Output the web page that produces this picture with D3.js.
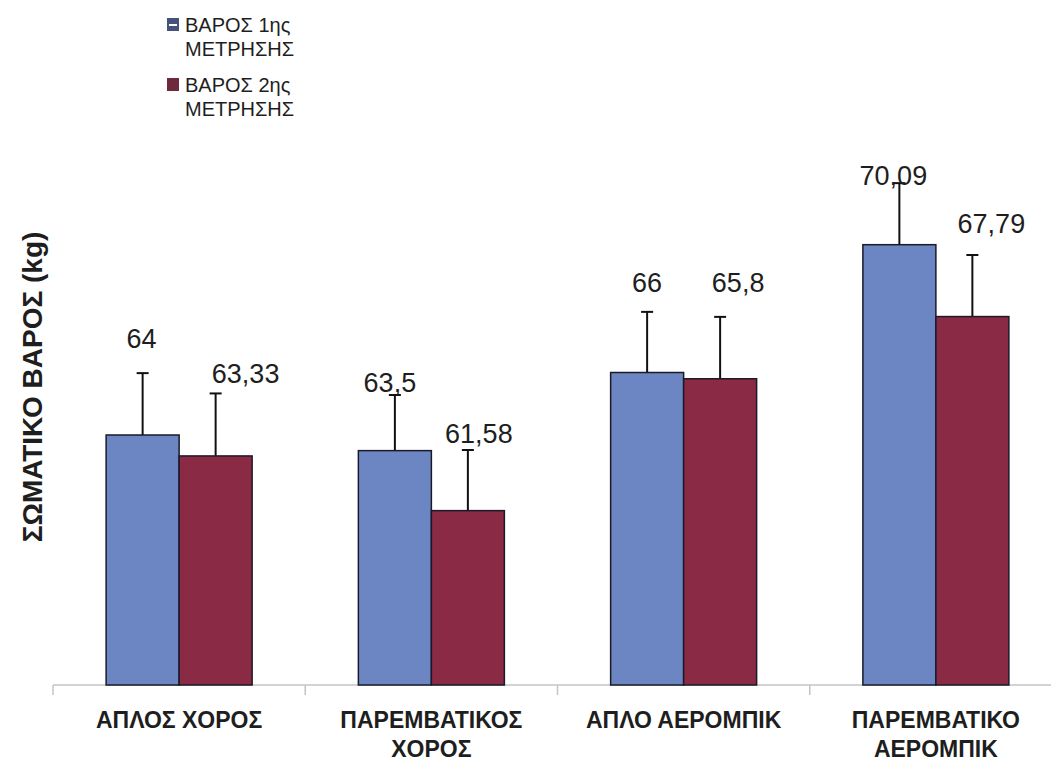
<!DOCTYPE html>
<html>
<head>
<meta charset="utf-8">
<script src="https://cdn.jsdelivr.net/npm/d3@7"></script>
<style>
    body { margin: 0; background: #fff; }
    text { font-family: Arial, "Liberation Sans", sans-serif; fill: #1e1e1e; }
</style>
</head>
<body>
<svg id="scene"></svg>
<script>
// data
let categories = [
    ["ΑΠΛΟΣ ΧΟΡΟΣ"],
    ["ΠΑΡΕΜΒΑΤΙΚΟΣ", "ΧΟΡΟΣ"],
    ["ΑΠΛΟ ΑΕΡΟΜΠΙΚ"],
    ["ΠΑΡΕΜΒΑΤΙΚΟ", "ΑΕΡΟΜΠΙΚ"]
]
let seriesNames = [["ΒΑΡΟΣ 1ης", "ΜΕΤΡΗΣΗΣ"], ["ΒΑΡΟΣ 2ης", "ΜΕΤΡΗΣΗΣ"]]
let weight1 = [64, 63.5, 66, 70.09]
let weight2 = [63.33, 61.58, 65.8, 67.79]
let sd1 = [1.98, 1.78, 1.94, 1.97]
let sd2 = [2.0, 1.94, 1.98, 1.97]

// hand placed value labels: nudge (dx, dy) from the error bar top
let labelNudge1 = [[-1, -25], [-5, -3], [0, -20], [-6, 2]]
let labelNudge2 = [[30, -10], [11, -7], [18, -25], [19, -22]]

function init() {
    let width = 1051,
        height = 762,
        svg = d3.select('#scene').attr("width", width).attr("height", height);

    let colors = ['#6c86c4', '#8a2a44'];

    let x0 = d3.scaleBand().domain(d3.range(categories.length)).range([53, 1062]);
    let x1 = d3.scaleBand().domain([0, 1]).range([0, 146]);
    let y = d3.scaleLinear().domain([56, 74]).range([685, 122.5]);

    let rows = [];
    categories.forEach((c, i) => {
        rows.push({cat: i, s: 0, v: weight1[i], sd: sd1[i], nudge: labelNudge1[i]});
        rows.push({cat: i, s: 1, v: weight2[i], sd: sd2[i], nudge: labelNudge2[i]});
    });
    let barX = d => x0(d.cat) + (x0.bandwidth() - 146) / 2 + x1(d.s);
    let barMid = d => barX(d) + x1.bandwidth() / 2;

    // baseline with ticks between categories
    svg.append('line')
        .attr('x1', 53).attr('x2', width)
        .attr('y1', y(56)).attr('y2', y(56))
        .attr('stroke', '#c4c4c4').attr('stroke-width', 1.5);
    svg.selectAll('line.tick')
        .data(d3.range(categories.length + 1))
        .enter()
        .append('line')
        .attr('class', 'tick')
        .attr('x1', d => 53 + d * x0.step()).attr('x2', d => 53 + d * x0.step())
        .attr('y1', y(56)).attr('y2', y(56) + 10)
        .attr('stroke', '#c4c4c4').attr('stroke-width', 1.5);

    // error bars
    let err = svg.selectAll('g.err')
        .data(rows)
        .enter()
        .append('g')
        .attr('class', 'err');
    err.append('line')
        .attr('x1', barMid).attr('x2', barMid)
        .attr('y1', d => y(d.v)).attr('y2', d => y(d.v + d.sd))
        .attr('stroke', '#111').attr('stroke-width', 2);
    err.append('line')
        .attr('x1', d => barMid(d) - 6).attr('x2', d => barMid(d) + 6)
        .attr('y1', d => y(d.v + d.sd)).attr('y2', d => y(d.v + d.sd))
        .attr('stroke', '#111').attr('stroke-width', 2);

    svg.selectAll('rect.bar')
        .data(rows)
        .enter()
        .append('rect')
        .attr('class', 'bar')
        .attr('x', barX)
        .attr('y', d => y(d.v))
        .attr('width', x1.bandwidth())
        .attr('height', d => y(56) - y(d.v))
        .attr('fill', d => colors[d.s])
        .attr('stroke', '#1a1a28')
        .attr('stroke-width', 1.5);

    svg.selectAll('text.val')
        .data(rows)
        .enter()
        .append('text')
        .attr('class', 'val')
        .attr('x', d => barMid(d) + d.nudge[0])
        .attr('y', d => y(d.v + d.sd) + d.nudge[1])
        .attr('text-anchor', 'middle')
        .attr('font-size', '27px')
        .text(d => String(d.v).replace('.', ','));

    // category labels
    let cat = svg.selectAll('text.cat')
        .data(categories)
        .enter()
        .append('text')
        .attr('class', 'cat')
        .attr('text-anchor', 'middle')
        .attr('font-size', '23px')
        .attr('font-weight', 'bold');
    cat.selectAll('tspan')
        .data((d, i) => d.map(t => ({t: t, i: i})))
        .enter()
        .append('tspan')
        .attr('x', d => x0(d.i) + x0.bandwidth() / 2)
        .attr('y', (d, j) => 728 + j * 29)
        .text(d => d.t);

    // y axis title
    svg.append('text')
        .attr('transform', 'translate(42, 387) rotate(-90)')
        .attr('text-anchor', 'middle')
        .attr('font-size', '28px')
        .attr('font-weight', 'bold')
        .text('ΣΩΜΑΤΙΚΟ ΒΑΡΟΣ (kg)');

    // legend
    let legendTop = [18, 78];
    let leg = svg.selectAll('g.legend')
        .data(seriesNames)
        .enter()
        .append('g')
        .attr('class', 'legend')
        .attr('transform', (d, i) => `translate(167, ${legendTop[i]})`);
    leg.append('rect')
        .attr('width', 12).attr('height', 13)
        .attr('fill', (d, i) => i === 0 ? '#45537a' : '#6e2a3c');
    leg.filter((d, i) => i === 0).append('rect')
        .attr('x', 2).attr('y', 6).attr('width', 8).attr('height', 2)
        .attr('fill', '#fff');
    leg.append('text')
        .attr('font-size', '20px')
        .selectAll('tspan')
        .data(d => d)
        .enter()
        .append('tspan')
        .attr('x', 18)
        .attr('y', (d, j) => 14 + j * 24)
        .text(d => d);
}

onload = function () {
    init();
}
</script>
</body>
</html>
